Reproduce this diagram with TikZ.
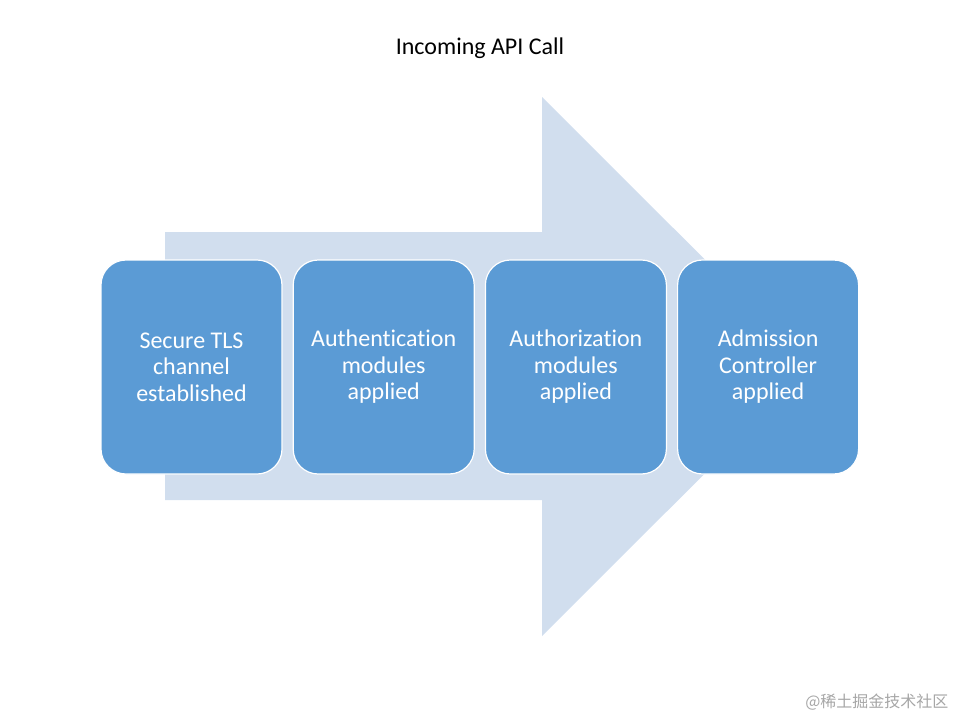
\documentclass[tikz,border=0pt]{standalone}
\usepackage{fontspec}
\setmainfont{Carlito}[Ligatures=NoCommon]
\newfontfamily\cjk{Noto Sans CJK SC}
\usetikzlibrary{positioning}
\definecolor{stepblue}{HTML}{5B9BD5}
\definecolor{arrowblue}{HTML}{D1DEEE}

\begin{document}
\begin{tikzpicture}[
  x=1pt, y=-1pt,
  node distance=10pt,
  stage/.style={draw=white, line width=1.2pt, rounded corners=25pt, fill=stepblue,
    text=white, align=center, minimum width=181pt, minimum height=214pt,
    font=\fontsize{24}{26.5}\selectfont, inner sep=2pt},
  bigarrow/.style={fill=arrowblue, draw=none}
]
\useasboundingbox (0,0) rectangle (960,720);
% background arrow
\fill[bigarrow] (165,232) -- (542,232) -- (542,97) -- (812,366.5)
  -- (542,636) -- (542,500) -- (165,500) -- cycle;
\node[font=\fontsize{24}{26}\selectfont] (title) at (480,48) {Incoming API Call};
\node[stage] (tls) at (191.5,367) {Secure TLS\\channel\\established};
\node[stage, right=of tls] (authn) {Authentication\\modules\\applied};
\node[stage, right=of authn] (authz) {Authorization\\modules\\applied};
\node[stage, right=of authz] (admit) {Admission\\Controller\\applied};
\node[font=\cjk\fontsize{16}{18}\selectfont, text=black!35, anchor=east] (mark) at (952,702) {@稀土掘金技术社区};
\end{tikzpicture}
\end{document}
